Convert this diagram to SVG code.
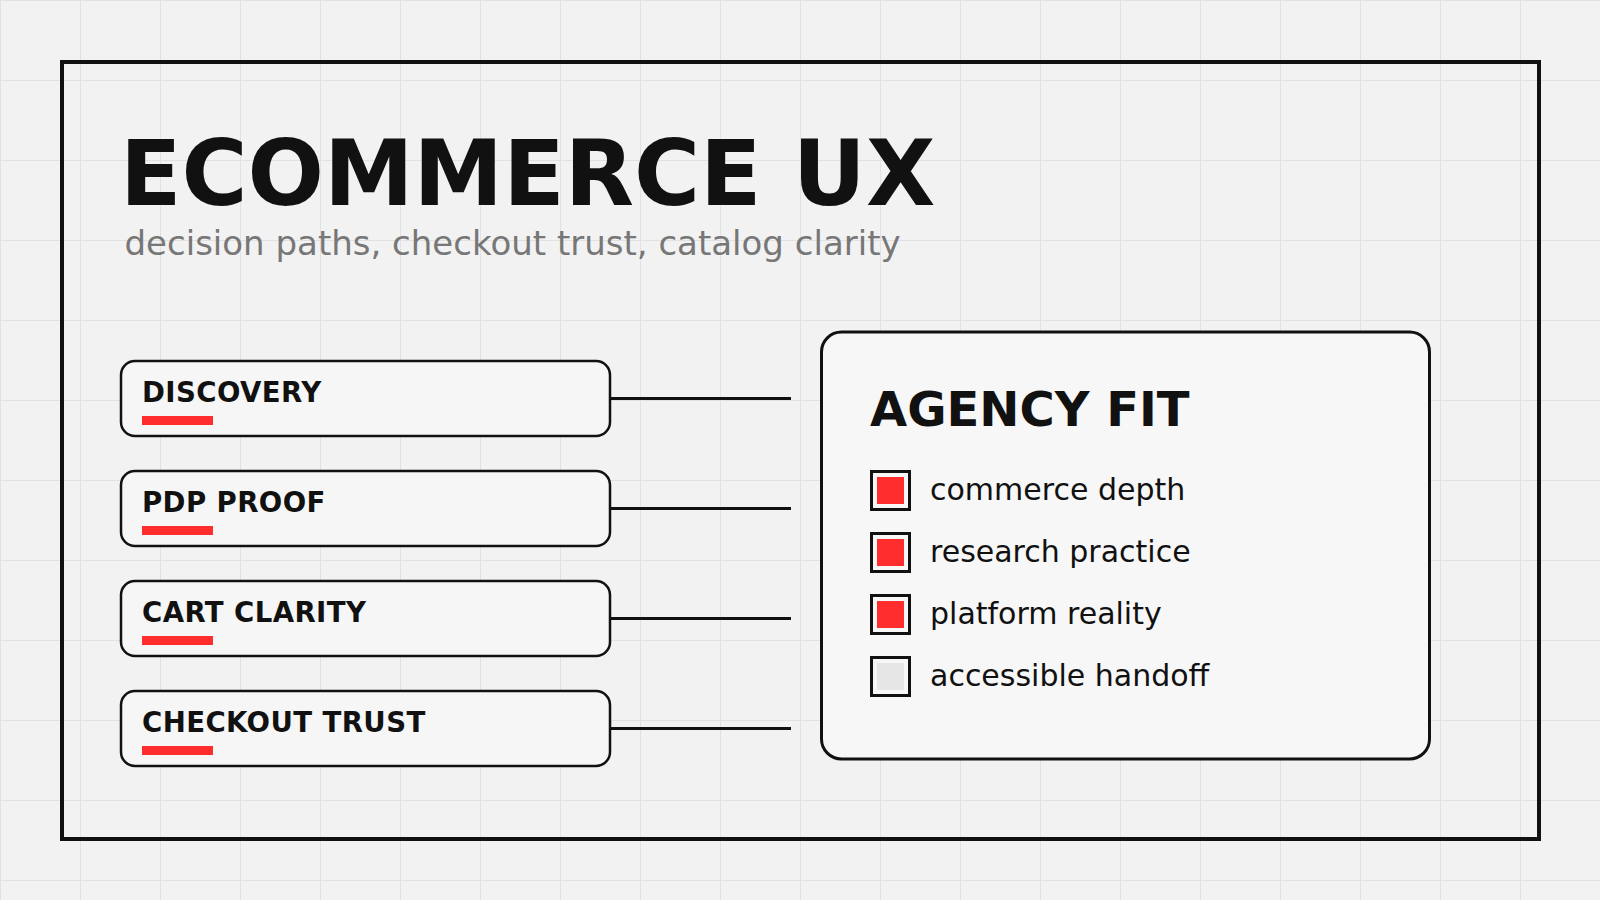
<svg xmlns="http://www.w3.org/2000/svg" width="1600" height="900" viewBox="0 0 1600 900">
  <defs>
    <pattern id="grid" width="80" height="80" patternUnits="userSpaceOnUse">
      <path d="M0 0.5H80M0.5 0V80" fill="none" stroke="#e1e1e1" stroke-width="1"/>
    </pattern>
    <style>
      .title{font-family:"DejaVu Sans",sans-serif;font-weight:bold;font-size:90px;fill:#111}
      .sub{font-family:"DejaVu Sans",sans-serif;font-size:34px;fill:#777}
      .node rect.box{fill:#f6f6f6;stroke:#111;stroke-width:2.5}
      .node text{font-family:"DejaVu Sans",sans-serif;font-weight:bold;font-size:27.6px;fill:#111;letter-spacing:0.4px}
      .bar{fill:#ff2d2d}
      .conn line{stroke:#111;stroke-width:3}
      .panel{fill:#f7f7f7;stroke:#111;stroke-width:3}
      .ptitle{font-family:"DejaVu Sans",sans-serif;font-weight:bold;font-size:48px;fill:#111}
      .chk{fill:#f7f7f7;stroke:#111;stroke-width:3}
      .item{font-family:"DejaVu Sans",sans-serif;font-size:30px;fill:#111}
    </style>
  </defs>
  <rect width="1600" height="900" fill="#f2f2f2"/>
  <rect width="1600" height="900" fill="url(#grid)"/>
  <rect x="62" y="62" width="1477" height="777" fill="none" stroke="#111" stroke-width="4"/>

  <text class="title" x="120" y="205">ECOMMERCE UX</text>
  <text class="sub" x="124.5" y="255">decision paths, checkout trust, catalog clarity</text>

  <g class="conn" id="connectors">
    <line x1="610" y1="398.5" x2="791" y2="398.5"/>
    <line x1="610" y1="508.5" x2="791" y2="508.5"/>
    <line x1="610" y1="618.5" x2="791" y2="618.5"/>
    <line x1="610" y1="728.5" x2="791" y2="728.5"/>
  </g>

  <g class="node" id="node-discovery">
    <rect class="box" x="121" y="361" width="489" height="75" rx="14"/>
    <text x="142" y="402">DISCOVERY</text>
    <rect class="bar" x="142" y="416" width="71" height="9"/>
  </g>
  <g class="node" id="node-pdp-proof">
    <rect class="box" x="121" y="471" width="489" height="75" rx="14"/>
    <text x="142" y="512">PDP PROOF</text>
    <rect class="bar" x="142" y="526" width="71" height="9"/>
  </g>
  <g class="node" id="node-cart-clarity">
    <rect class="box" x="121" y="581" width="489" height="75" rx="14"/>
    <text x="142" y="622">CART CLARITY</text>
    <rect class="bar" x="142" y="636" width="71" height="9"/>
  </g>
  <g class="node" id="node-checkout-trust">
    <rect class="box" x="121" y="691" width="489" height="75" rx="14"/>
    <text x="142" y="732">CHECKOUT TRUST</text>
    <rect class="bar" x="142" y="746" width="71" height="9"/>
  </g>

  <g id="node-agency-fit">
    <rect class="panel" x="821.5" y="332" width="608" height="427" rx="20"/>
    <text class="ptitle" x="870" y="426">AGENCY FIT</text>
    <rect class="chk" x="871.5" y="471.5" width="38" height="38"/>
    <rect class="bar" x="877" y="477" width="27" height="27"/>
    <text class="item" x="930" y="500">commerce depth</text>
    <rect class="chk" x="871.5" y="533.5" width="38" height="38"/>
    <rect class="bar" x="877" y="539" width="27" height="27"/>
    <text class="item" x="930" y="562">research practice</text>
    <rect class="chk" x="871.5" y="595.5" width="38" height="38"/>
    <rect class="bar" x="877" y="601" width="27" height="27"/>
    <text class="item" x="930" y="624">platform reality</text>
    <rect class="chk" x="871.5" y="657.5" width="38" height="38"/>
    <rect x="877" y="663" width="27" height="27" fill="#e6e6e6"/>
    <text class="item" x="930" y="686">accessible handoff</text>
  </g>
</svg>
